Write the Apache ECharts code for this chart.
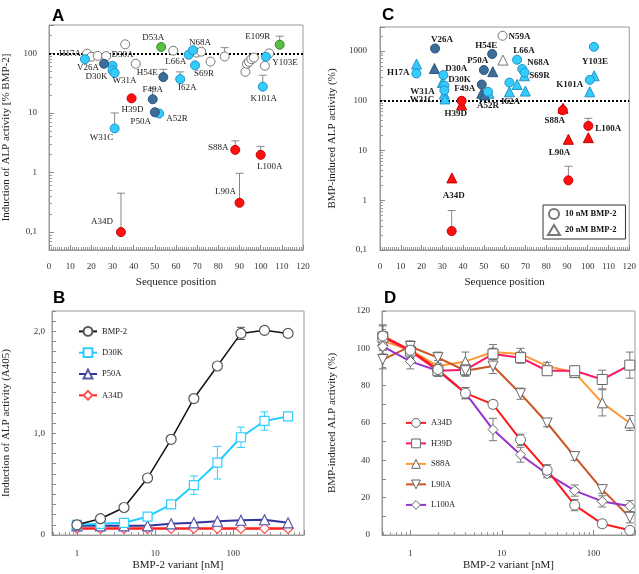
<!DOCTYPE html>
<html><head><meta charset="utf-8">
<script src="https://cdn.jsdelivr.net/npm/echarts@6/dist/echarts.min.js"></script>
<style>html,body{margin:0;padding:0;background:#fff}#c{width:639px;height:574px}</style>
</head><body><div id="c"></div>
<script>
// ---------------- Panel A: mutants, induction of ALP activity [% BMP-2] ----------------
const aNames = ['H17A','V26A','D30A','D30K','W31A','W31C','A34D','H39D','F49A','P50A','A52R','D53A','H54E','I62A','L66A','N68A','S69R','S88A','L90A','L100A','K101A','Y103E','E109R'];
const aPos   = [17,26,30,30,31,31,34,39,49,50,52,53,54,62,66,68,69,88,90,100,101,102.5,109];
const aValue = [80,67,62,52,47,5.5,0.1,17.6,17,10.3,9.8,128,40,37,95,113,63,2.4,0.31,1.98,27.6,88,140];
const aErrHi = [null,null,null,null,null,10,0.45,null,26,null,null,null,54,49,null,null,null,3.4,0.97,2.75,43,null,195];
const aClass = ['cyan','dark','cyan','cyan','cyan','cyan','red','red','dark','dark','cyan','green','dark','cyan','cyan','cyan','cyan','red','red','red','cyan','cyan','green'];
const aOpenPos   = [18,20,23,27,36,41,58.7,69.7,71.9,76.3,83,92.8,93.5,94.5,95.6,96.8,102,104];
const aOpenValue = [99,88,91,90,142,67,111,103,107,73,89,49,67,72,80,85,62,100];
const aOpenErrHi = [null,null,null,null,null,null,null,null,null,null,125,null,null,null,null,null,null,null];
const aXTicks = [0,10,20,30,40,50,60,70,80,90,100,110,120];
const aYTicks = [0.1,1,10,100];

// ---------------- Panel C: 10 nM (circles) and 20 nM (triangles) ----------------
const cCircNames = ['H17A','V26A','D30A','D30K','W31A','A34D','H39D','F49A','P50A','A52R','H54E','N59A','I62A','L66A','N68A','S69R','S88A','L90A','L100A','K101A','Y103E'];
const cCircPos   = [17.5,26.5,30.5,31,31,34.5,39.3,49,50,52,54,59,62.3,66,68.5,69.6,88,90.7,100.3,101,103];
const cCircValue = [350,1110,325,200,160,0.24,99,210,410,150,860,2000,230,660,430,365,64,2.5,31,260,1200];
const cCircErrHi = [null,null,null,null,null,0.62,null,null,null,null,null,null,null,null,null,null,null,4.8,44,null,null];
const cCircClass = ['cyan','dark','cyan','cyan','cyan','red','red','dark','dark','cyan','dark','white','cyan','cyan','cyan','cyan','red','red','red','cyan','cyan'];
const cTriNames = ['H17A','V26A','D30K','W31A','W31C','A34D','H39D','F49A','P50A','A52R','H54E','N59A','I62A','L66A','S69R','N68A','S88A','L90A','L100A','K101A','Y103E'];
const cTriPos   = [17.6,26.2,30,31,31.3,34.6,39.3,49,50.3,52.5,54.3,59.2,62.3,66,69.5,70,88.1,90.7,100.3,101,103.1];
const cTriValue = [540,440,230,135,108,2.8,82,140,130,140,380,650,150,210,315,155,70,16.7,18,150,315];
const cTriClass = ['cyan','dark','cyan','cyan','cyan','red','red','dark','dark','cyan','dark','white','cyan','cyan','cyan','cyan','red','red','red','cyan','cyan'];
const cLegendNames = ['10 nM BMP-2','20 nM BMP-2'];

// ---------------- Panel B: dose response (A405) ----------------
const bDose = [1,2,4,8,16,31.25,62.5,125,250,500];
const bBMP2 = [0.10,0.16,0.27,0.56,0.94,1.34,1.66,1.98,2.01,1.98];
const bBMP2Err = [0,0,0,0,0,0,0,0.06,0,0];
const bD30K = [0.10,0.11,0.12,0.18,0.30,0.49,0.71,0.96,1.12,1.165];
const bD30KErr = [0,0,0,0,0,0.09,0.16,0.10,0.09,0];
const bP50A = [0.09,0.09,0.09,0.09,0.11,0.12,0.135,0.145,0.15,0.12];
const bA34D = [0.065,0.065,0.065,0.065,0.065,0.065,0.065,0.065,0.065,0.065];
const bNames = ['BMP-2','D30K','P50A','A34D'];

// ---------------- Panel D: BMP-induced ALP activity (%) ----------------
const dDose = [0.5,1,2,4,8,16,31.25,62.5,125,250];
const dNames = ['A34D','H39D','S88A','L90A','L100A'];
const dA34D  = [106.6,99,88.7,76,70,51,34.7,16,6,2.5];
const dH39D  = [106,98.5,88,88.5,97,95,88,88,83.3,91];
const dS88A  = [104,99,90.5,93,98,97,90.5,87,70.8,60];
const dL90A  = [94,101,95,88,90.5,75.7,60,42,24.3,9.5];
const dL100A = [101,93,88,76,56.5,43,32.7,23.8,18,15.5];
const dA34DErr  = [6,4,3,3,2,3,3,3,2,1];
const dH39DErr  = [6,4,3,3,3,3,2,2,5,7];
const dS88AErr  = [5,3,3,5,4,3,2,2,7,4];
const dL90AErr  = [5,3,3,3,4,3,2,2,2,3];
const dL100AErr = [4,4,3,3,6,4,2,3,3,3];

// ---------------- layout / style (not data) ----------------
const aLabelOffset = [[-15,-6],[-16,4],[10,-11],[-16,6],[10,8],[-13,9],[-19,-10],[1,11],[0,-10],[-14,9],[18,5],[-8,-9],[-16,-4],[7,9],[-13,7],[7,-8],[9,8],[-17,-2],[-14,-11],[9,12],[1,12],[19,6],[-22,-8]];
const cCircLabelOffset = [[-18,-1],[7,-9],[13,-6],[15,-6],[-22,1],null,[-6,13],[-17,4],[-6,-9],[0,14],[-6,-8],[17,1],null,[7,-9],[16,-6],[15,3],[-8,10],null,[20,3],[-20,5],[1,15]];
const cTriLabelOffset = [null,null,null,null,[-23,1],[2,18],null,null,null,null,null,null,[1,10],null,null,null,null,[-9,13],null,null,null];

const SERIF = 'Liberation Serif';
const SANS = 'Liberation Sans';
const classStyle = {
  cyan:{color:'#33ccff', borderColor:'#2592c4'},
  dark:{color:'#3d6d98', borderColor:'#2a5480'},
  red:{color:'#ff1010', borderColor:'#c80000'},
  green:{color:'#5cbf45', borderColor:'#3a8a2a'},
  white:{color:'#ffffff', borderColor:'#777777'}
};

function fmtNum(v){ return String(Number(v.toPrecision(6))).replace('.', ','); }
function logFmt(v){ const l = Math.log10(v); return Math.abs(l - Math.round(l)) < 1e-6 ? fmtNum(v) : ''; }

function axis(o){
  return Object.assign({
    gridIndex:o.grid,
    axisLine:{show:true, lineStyle:{color:'#999', width:1}},
    axisTick:{show:true, inside:true, length:5, lineStyle:{color:'#888'}},
    minorTick:{show:false},
    splitLine:{show:false},
    nameLocation:'middle',
    nameTextStyle:{fontFamily:SERIF, fontSize:11, color:'#222'},
    axisLabel:{fontFamily:SERIF, fontSize:9, color:'#333', margin:12}
  }, o.extra);
}

function errRender(color, capW, both){
  return function(params, api){
    const x = api.value(0), lo = api.value(1), hi = api.value(2);
    const p0 = api.coord([x, lo]), p1 = api.coord([x, hi]);
    const st = {stroke:color, lineWidth:1};
    const ch = [
      {type:'line', shape:{x1:p0[0], y1:p0[1], x2:p1[0], y2:p1[1]}, style:st},
      {type:'line', shape:{x1:p1[0]-capW, y1:p1[1], x2:p1[0]+capW, y2:p1[1]}, style:st}
    ];
    if (both) ch.push({type:'line', shape:{x1:p0[0]-capW, y1:p0[1], x2:p0[0]+capW, y2:p0[1]}, style:st});
    return {type:'group', children:ch};
  };
}
function errSeries(grid, data, color, capW, both, z){
  return {type:'custom', xAxisIndex:grid, yAxisIndex:grid, coordinateSystem:'cartesian2d',
    renderItem:errRender(color, capW, both), data:data, z:z||2, silent:true, clip:false};
}
function upErrData(pos, val, hi){
  const out = [];
  pos.forEach((p,i)=>{ if (hi[i] != null) out.push([p, val[i], hi[i]]); });
  return out;
}
function symErrData(xs, val, err){
  const out = [];
  xs.forEach((x,i)=>{ if (err[i] > 0) out.push([x, val[i]-err[i], val[i]+err[i]]); });
  return out;
}
function classScatter(grid, names, pos, val, cls, offsets, which, symbol, size, labelFont){
  const data = [];
  names.forEach((n,i)=>{
    if (cls[i] !== which) return;
    const off = offsets ? offsets[i] : null;
    data.push({name:n, value:[pos[i], val[i]],
      label: off ? {show:true, offset:off} : {show:false}});
  });
  return {type:'scatter', xAxisIndex:grid, yAxisIndex:grid, symbol:symbol, symbolSize:size, data:data,
    itemStyle:Object.assign({borderWidth:1, opacity:1}, classStyle[which]),
    label:Object.assign({position:'inside', formatter:'{b}', color:'#1a1a1a', align:'center', verticalAlign:'middle'}, labelFont),
    z:5, silent:true, clip:false};
}

const series = [];
// ---- Panel A (grid 0)
const aLabelFont = {fontFamily:SERIF, fontSize:9};
series.push(errSeries(0, upErrData(aOpenPos, aOpenValue, aOpenErrHi), '#888', 4, false, 2));
series.push(errSeries(0, upErrData(aPos, aValue, aErrHi), '#888', 4, false, 2));
const aOpen = {type:'scatter', xAxisIndex:0, yAxisIndex:0, symbol:'circle', symbolSize:9,
  data: aOpenPos.map((p,i)=>[p, aOpenValue[i]]),
  itemStyle:{color:'#fff', borderColor:'#777', borderWidth:1, opacity:1}, z:4, silent:true,
  markLine:{silent:true, symbol:'none', label:{show:false}, lineStyle:{color:'#000', type:[2,2], width:2},
    data:[{yAxis:100}], z:3}};
series.push(aOpen);
['cyan','dark','red','green'].forEach(c=>series.push(classScatter(0, aNames, aPos, aValue, aClass, aLabelOffset, c, 'circle', 9, aLabelFont)));

// ---- Panel C (grid 1)
const cLabelFont = {fontFamily:SERIF, fontSize:9, fontWeight:'bold'};
series.push(errSeries(1, upErrData(cCircPos, cCircValue, cCircErrHi), '#888', 4, false, 2));
series.push({type:'scatter', name:cLegendNames[0], xAxisIndex:1, yAxisIndex:1, symbol:'circle', symbolSize:9, data:[],
  itemStyle:{color:'#fff', borderColor:'#555', borderWidth:1},
  markLine:{silent:true, symbol:'none', label:{show:false}, lineStyle:{color:'#000', type:[2,2], width:2}, data:[{yAxis:100}], z:3}});
series.push({type:'scatter', name:cLegendNames[1], xAxisIndex:1, yAxisIndex:1, symbol:'triangle', symbolSize:10, data:[],
  itemStyle:{color:'#fff', borderColor:'#555', borderWidth:1}});
['cyan','dark','red','white'].forEach(c=>series.push(classScatter(1, cTriNames, cTriPos, cTriValue, cTriClass, cTriLabelOffset, c, 'triangle', 10, cLabelFont)));
['cyan','dark','red','white'].forEach(c=>series.push(classScatter(1, cCircNames, cCircPos, cCircValue, cCircClass, cCircLabelOffset, c, 'circle', 9, cLabelFont)));

// ---- Panel B (grid 2)
const bSpec = [
  {name:'A34D', vals:bA34D, line:'#ff2020', border:'#ff5050', symbol:'diamond', size:10, w:2.5},
  {name:'P50A', vals:bP50A, line:'#333399', border:'#5555aa', symbol:'triangle', size:10, w:2},
  {name:'D30K', vals:bD30K, line:'#22ccff', border:'#33ccff', symbol:'rect', size:9, w:2},
  {name:'BMP-2', vals:bBMP2, line:'#111111', border:'#555555', symbol:'circle', size:10, w:1.5}
];
series.push(errSeries(2, symErrData(bDose, bD30K, bD30KErr), '#33ccff', 4, true, 3));
series.push(errSeries(2, symErrData(bDose, bBMP2, bBMP2Err), '#555', 4, true, 3));
bSpec.forEach(s=>series.push({type:'line', name:s.name, xAxisIndex:2, yAxisIndex:2,
  data: bDose.map((x,i)=>[x, s.vals[i]]), symbol:s.symbol, symbolSize:s.size, showSymbol:true,
  lineStyle:{color:s.line, width:s.w}, itemStyle:{color:'#fff', borderColor:s.border, borderWidth:1.2},
  z:4, silent:true, clip:false}));

// ---- Panel D (grid 3)
const dSpec = [
  {vals:dS88A, err:dS88AErr, line:'#ff9933', symbol:'triangle'},
  {vals:dH39D, err:dH39DErr, line:'#ff1a66', symbol:'rect'},
  {vals:dL90A, err:dL90AErr, line:'#cc5522', symbol:'path://M0,0L20,0L10,17Z'},
  {vals:dL100A, err:dL100AErr, line:'#9933cc', symbol:'diamond'},
  {vals:dA34D, err:dA34DErr, line:'#ff1a1a', symbol:'circle'}
];
const dOrderNames = ['S88A','H39D','L90A','L100A','A34D'];
dSpec.forEach((s,k)=>{
  series.push(errSeries(3, symErrData(dDose, s.vals, s.err), '#777', 4, true, 3));
  series.push({type:'line', name:'D:'+dOrderNames[k], xAxisIndex:3, yAxisIndex:3,
    data: dDose.map((x,i)=>[x, s.vals[i]]), symbol:s.symbol, symbolSize:10, showSymbol:true,
    lineStyle:{color:s.line, width:2}, itemStyle:{color:'#fff', borderColor:'#666', borderWidth:1},
    z:4, silent:true, clip:false});
});

const option = {
  animation:false,
  backgroundColor:'#fff',
  title:[
    {text:'A', left:47, top:3, textStyle:{fontFamily:SANS, fontSize:17, fontWeight:'bold', color:'#000'}},
    {text:'C', left:377, top:2, textStyle:{fontFamily:SANS, fontSize:17, fontWeight:'bold', color:'#000'}},
    {text:'B', left:48, top:285, textStyle:{fontFamily:SANS, fontSize:17, fontWeight:'bold', color:'#000'}},
    {text:'D', left:379, top:285, textStyle:{fontFamily:SANS, fontSize:17, fontWeight:'bold', color:'#000'}}
  ],
  legend:[
    {orient:'vertical', left:73, top:321, itemWidth:18, itemHeight:11, itemGap:10.5, data:bNames,
      textStyle:{fontFamily:SERIF, fontSize:8.5, color:'#222'}, selectedMode:false},
    {orient:'vertical', left:400, top:413, itemWidth:20, itemHeight:11, itemGap:10.7,
      data:dNames.map(n=>'D:'+n), formatter:n=>n.replace(/^D:/,''),
      itemStyle:{color:'#fff', borderColor:'#666', borderWidth:1},
      textStyle:{fontFamily:SERIF, fontSize:8.5, color:'#222'}, selectedMode:false},
    {orient:'vertical', left:543, top:205, itemWidth:12, itemHeight:10, itemGap:4, data:cLegendNames,
      padding:[3,9,3,4], borderColor:'#333', borderWidth:1,
      textStyle:{fontFamily:SERIF, fontSize:8.5, fontWeight:'bold', color:'#111'}, selectedMode:false}
  ],
  grid:[
    {left:49, top:25, width:254, height:225, show:true, borderColor:'#999', borderWidth:1},
    {left:380, top:27, width:254, height:223, show:true, borderColor:'#999', borderWidth:1},
    {left:52, top:311, width:252, height:224, show:true, borderColor:'#999', borderWidth:1},
    {left:382, top:311, width:253, height:224, show:true, borderColor:'#999', borderWidth:1}
  ],
  xAxis:[
    axis({grid:0, extra:{type:'value', min:aXTicks[0], max:aXTicks[aXTicks.length-1], interval:10, name:'Sequence position', nameGap:27,
      minorTick:{show:true, splitNumber:10, length:3, lineStyle:{color:'#999'}}}}),
    axis({grid:1, extra:{type:'value', min:aXTicks[0], max:aXTicks[aXTicks.length-1], interval:10, name:'Sequence position', nameGap:27,
      minorTick:{show:true, splitNumber:10, length:3, lineStyle:{color:'#999'}}}}),
    axis({grid:2, extra:{type:'log', logBase:10, min:0.48, max:800, name:'BMP-2 variant [nM]', nameGap:25,
      axisLabel:{fontFamily:SERIF, fontSize:9, color:'#333', margin:14, formatter:logFmt},
      minorTick:{show:true, splitNumber:9, length:3, lineStyle:{color:'#999'}}}}),
    axis({grid:3, extra:{type:'log', logBase:10, min:0.49, max:285, name:'BMP-2 variant [nM]', nameGap:25,
      axisLabel:{fontFamily:SERIF, fontSize:9, color:'#333', margin:14, formatter:logFmt},
      minorTick:{show:true, splitNumber:9, length:3, lineStyle:{color:'#999'}}}})
  ],
  yAxis:[
    axis({grid:0, extra:{type:'log', logBase:10, min:0.05, max:300, name:'Induction of ALP activity [% BMP-2]', nameGap:37,
      axisLabel:{fontFamily:SERIF, fontSize:9, color:'#333', margin:12, formatter:logFmt},
      minorTick:{show:true, splitNumber:9, length:3, lineStyle:{color:'#999'}}}}),
    axis({grid:1, extra:{type:'log', logBase:10, min:0.1, max:3000, name:'BMP-induced ALP activity (%)', nameGap:42,
      axisLabel:{fontFamily:SERIF, fontSize:9, color:'#333', margin:13, formatter:logFmt},
      minorTick:{show:true, splitNumber:9, length:3, lineStyle:{color:'#999'}}}}),
    axis({grid:2, extra:{type:'value', min:0, max:2.2, interval:0.1, name:'Induction of ALP activity (A405)', nameGap:40,
      axisTick:{show:true, inside:true, length:4, lineStyle:{color:'#888'}},
      axisLabel:{fontFamily:SERIF, fontSize:9, color:'#333', margin:7,
        formatter:v=>Math.abs(v-Math.round(v))<1e-6 ? (Math.round(v)===0 ? '0' : v.toFixed(1).replace('.', ',')) : ''}}}),
    axis({grid:3, extra:{type:'value', min:0, max:120, interval:10, name:'BMP-induced ALP activity (%)', nameGap:44,
      axisTick:{show:true, inside:true, length:4, lineStyle:{color:'#888'}},
      axisLabel:{fontFamily:SERIF, fontSize:9, color:'#333', margin:12,
        formatter:v=>(Math.round(v)%20===0 ? String(Math.round(v)) : '')}}})
  ],
  series:series
};
const chart = echarts.init(document.getElementById('c'));
chart.setOption(option);
</script>
</body></html>
